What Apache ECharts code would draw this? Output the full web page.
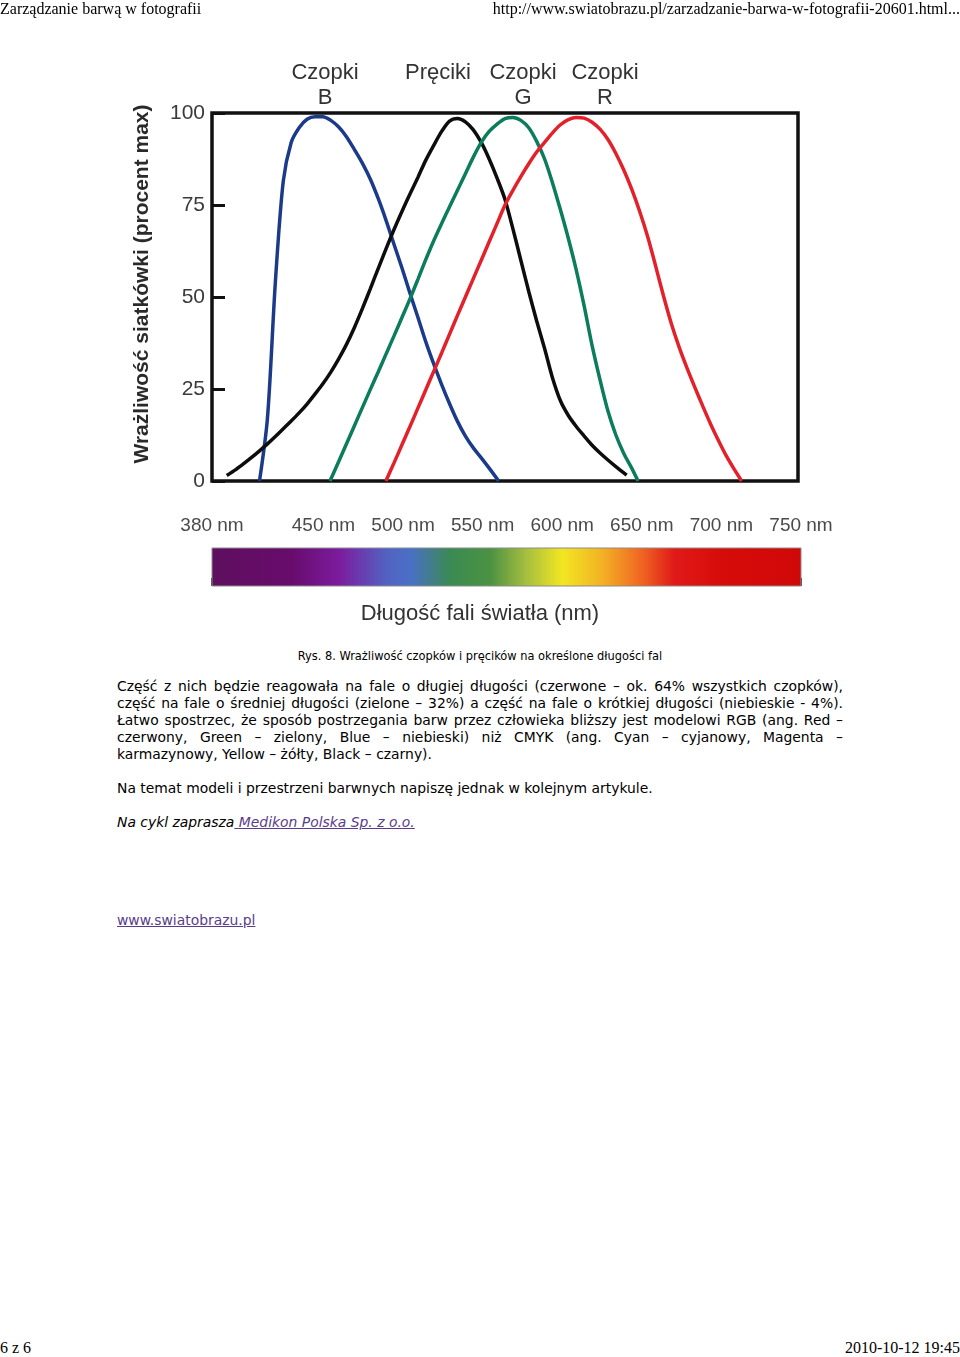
<!DOCTYPE html>
<html>
<head>
<meta charset="utf-8">
<script src="https://cdn.jsdelivr.net/npm/echarts@6/dist/echarts.min.js"></script>
<style>
html,body{margin:0;padding:0;background:#fff;}
body{width:960px;height:1357px;position:relative;overflow:hidden;}
#chart{position:absolute;left:0;top:0;width:960px;height:640px;z-index:1;}
.serif{position:absolute;z-index:2;font-family:"Liberation Serif","Times New Roman",serif;font-size:16px;line-height:18px;color:#000;white-space:nowrap;}
#caption{position:absolute;z-index:2;left:0;width:960px;top:648px;text-align:center;font-family:"DejaVu Sans Condensed","DejaVu Sans",sans-serif;font-size:12.7px;line-height:16px;color:#000;white-space:nowrap;}
.txt{position:absolute;z-index:2;left:117px;width:726px;font-family:"DejaVu Sans",Verdana,sans-serif;font-size:13.9px;line-height:17px;color:#000;}
.j{text-align:justify;text-align-last:justify;white-space:nowrap;}
.l{white-space:nowrap;}
a{color:#5a3c8c;text-decoration:underline;}
</style>
</head>
<body>
<div class="serif" style="left:0;top:0;">Zarządzanie barwą w fotografii</div>
<div class="serif" style="right:0;top:0;">http://www.swiatobrazu.pl/zarzadzanie-barwa-w-fotografii-20601.html...</div>
<div id="chart"></div>
<div id="caption">Rys. 8. Wrażliwość czopków i pręcików na określone długości fal</div>
<div class="txt" style="top:678px;">
<div class="j">Część z nich będzie reagowała na fale o długiej długości (czerwone – ok. 64% wszystkich czopków),</div>
<div class="j">część na fale o średniej długości (zielone – 32%) a część na fale o krótkiej długości (niebieskie - 4%).</div>
<div class="j">Łatwo spostrzec, że sposób postrzegania barw przez człowieka bliższy jest modelowi RGB (ang. Red –</div>
<div class="j">czerwony, Green – zielony, Blue – niebieski) niż CMYK (ang. Cyan – cyjanowy, Magenta –</div>
<div class="l">karmazynowy, Yellow – żółty, Black – czarny).</div>
</div>
<div class="txt l" style="top:780px;">Na temat modeli i przestrzeni barwnych napiszę jednak w kolejnym artykule.</div>
<div class="txt l" style="top:814px;font-style:italic;">Na cykl zaprasza<a href="#"> Medikon Polska Sp. z o.o.</a></div>
<div class="txt l" style="top:912px;"><a href="#">www.swiatobrazu.pl</a></div>
<div class="serif" style="left:0;top:1339px;">6 z 6</div>
<div class="serif" style="right:0;top:1339px;">2010-10-12 19:45</div>

<script>
// shrink letter spacing of any justified line that would overflow its box
document.querySelectorAll('.j').forEach(function (el) {
  let ls = 0;
  while (el.scrollWidth > el.clientWidth && ls > -1.5) {
    ls -= 0.05;
    el.style.letterSpacing = ls + 'px';
  }
});
</script>

<script>
// ---- data ----
const yTickValues = [0, 25, 50, 75, 100];
const spectrumTicks = [380, 450, 500, 550, 600, 650, 700, 750];

const blueNm  = [410, 415, 420, 425, 430, 435, 440, 445, 450, 455, 460, 465, 470, 475, 480, 485, 490, 495, 500, 505, 510, 515, 520, 525, 530, 535, 540, 545, 550, 555, 561];
const blueVal = [0, 17, 54, 81.5, 92, 96, 98.3, 99, 99, 98, 96.2, 93.5, 90, 86.3, 82, 76.7, 70.7, 64.2, 57.8, 51, 44.5, 37.8, 31.8, 26.2, 21, 16.2, 12.2, 9, 6.3, 3.5, 0];

const blackNm  = [389.3, 395, 400, 405, 410, 415, 420, 425, 430, 435, 440, 445, 450, 455, 460, 465, 470, 475, 480, 485, 490, 495, 500, 505, 510, 515, 520, 525, 530, 535, 540, 545, 550, 555, 560, 565, 570, 575, 580, 585, 590, 595, 600, 605, 610, 615, 620, 625, 630, 635, 641.8];
const blackVal = [1.5, 3.1, 4.7, 6.4, 8.2, 10.1, 12.1, 14.2, 16.3, 18.5, 20.9, 23.6, 26.4, 29.6, 33.2, 37.2, 41.8, 46.9, 52.3, 57.8, 63.2, 68.4, 73.3, 78, 82.5, 87.2, 91.2, 95, 97.8, 98.5, 97.6, 95.4, 92, 87.5, 82.3, 76.5, 68.5, 60, 51.5, 43.5, 36, 28, 21.8, 17.8, 14.8, 12.2, 9.7, 7.6, 5.7, 3.9, 1.6];

const greenNm  = [454.5, 460, 465, 470, 475, 480, 485, 490, 495, 500, 505, 510, 515, 520, 525, 530, 535, 540, 545, 550, 555, 560, 565, 570, 575, 580, 585, 590, 595, 600, 605, 610, 615, 620, 625, 630, 635, 640, 645, 649];
const greenVal = [0, 5.3, 10.2, 15.1, 20, 24.9, 29.7, 34.6, 39.5, 44.5, 49.5, 54.8, 60.2, 65.3, 70, 74.5, 79, 83.5, 88, 92, 95, 97, 98.5, 98.8, 98, 96, 92.3, 87.5, 81, 73.7, 65.9, 57.3, 47.5, 36.8, 27.5, 19, 12.5, 7.5, 3.5, 0];

const redNm  = [489.8, 495, 500, 505, 510, 515, 520, 525, 530, 535, 540, 545, 550, 555, 560, 565, 570, 575, 580, 585, 590, 595, 600, 605, 610, 615, 620, 625, 630, 635, 640, 645, 650, 655, 660, 665, 670, 675, 680, 685, 690, 695, 700, 705, 710, 714.4];
const redVal = [0, 5, 9.9, 14.8, 19.8, 24.8, 29.8, 34.8, 39.9, 45, 50, 55, 60, 65, 70, 75, 79, 82.7, 86.2, 89.4, 92, 94.6, 96.8, 98.2, 98.8, 98.6, 97.5, 95.6, 92.8, 89, 84.5, 79.3, 73.3, 66.5, 58.6, 50.4, 42.8, 36.3, 30.6, 25.3, 20.2, 15.3, 10.8, 6.6, 3, 0];

const spectrumNm     = [380, 430, 460, 490, 505, 530, 555, 578, 600, 625, 650, 670, 700, 750];
const spectrumColors = ['#5e0f5e', '#680b6c', '#7c1c9e', '#5262c2', '#4a70c6', '#3a8a52', '#4c9242', '#a8c03e', '#f2e622', '#f2b224', '#f06422', '#e01a18', '#d60c0a', '#d00808'];

const seriesNames = ['Czopki B', 'Pręciki', 'Czopki G', 'Czopki R'];

// ---- chart ----
const zip = (xs, ys) => xs.map((x, i) => [x, ys[i]]);
const FONT = '"Liberation Sans", Arial, Helvetica, sans-serif';
const chart = echarts.init(document.getElementById('chart'), null, {renderer: 'canvas'});

const nmMin = spectrumNm[0], nmMax = spectrumNm[spectrumNm.length - 1];
const gradStops = spectrumNm.map((nm, i) => ({offset: (nm - nmMin) / (nmMax - nmMin), color: spectrumColors[i]}));

function curve(name, xs, ys, color) {
  return {
    name: name, type: 'line', xAxisIndex: 0, yAxisIndex: 0,
    data: zip(xs, ys), smooth: 0.3, showSymbol: false,
    lineStyle: {color: color, width: 3.5}, itemStyle: {color: color}, silent: true, z: 3
  };
}

chart.setOption({
  animation: false,
  backgroundColor: 'transparent',
  grid: [
    {left: 212, top: 113, width: 586, height: 368, show: true, borderColor: '#111', borderWidth: 3.5, backgroundColor: 'transparent'},
    {left: 212, top: 548, width: 589, height: 38, show: false}
  ],
  xAxis: [
    {gridIndex: 0, type: 'value', min: 380, max: 750, axisLine: {show: false}, axisTick: {show: false}, axisLabel: {show: false}, splitLine: {show: false}},
    {gridIndex: 1, type: 'value', min: 380, max: 750, position: 'top',
     axisLine: {show: false},
     axisTick: {show: true, customValues: spectrumTicks, length: 8, lineStyle: {color: '#333', width: 2}},
     axisLabel: {show: true, customValues: spectrumTicks, formatter: '{value} nm', fontFamily: FONT, fontSize: 19, color: '#4a4a4a', margin: 13},
     splitLine: {show: false}}
  ],
  yAxis: [
    {gridIndex: 0, type: 'value', min: 0, max: 100, interval: 25,
     axisLine: {show: false},
     axisTick: {show: true, inside: true, length: 13, lineStyle: {color: '#111', width: 3}},
     axisLabel: {fontFamily: FONT, fontSize: 21, color: '#3a3a3a', margin: 7, customValues: yTickValues},
     splitLine: {show: false}},
    {gridIndex: 1, type: 'value', min: 0, max: 1, show: false}
  ],
  title: {
    text: 'Długość fali światła (nm)', left: 'center', top: 598,
    textStyle: {fontFamily: FONT, fontSize: 22, fontWeight: 'normal', color: '#333'}
  },
  graphic: [
    {type: 'text', x: 142, y: 284, rotation: Math.PI / 2,
     style: {text: 'Wrażliwość siatkówki (procent max)', textAlign: 'center', textVerticalAlign: 'middle', font: 'bold 21px ' + FONT, fill: '#2a2a2a'}},
    {type: 'text', x: 325, y: 60, style: {text: 'Czopki\nB', textAlign: 'center', font: '22px ' + FONT, fill: '#333', lineHeight: 25}},
    {type: 'text', x: 438, y: 60, style: {text: 'Pręciki', textAlign: 'center', font: '22px ' + FONT, fill: '#333', lineHeight: 25}},
    {type: 'text', x: 523, y: 60, style: {text: 'Czopki\nG', textAlign: 'center', font: '22px ' + FONT, fill: '#333', lineHeight: 25}},
    {type: 'text', x: 605, y: 60, style: {text: 'Czopki\nR', textAlign: 'center', font: '22px ' + FONT, fill: '#333', lineHeight: 25}}
  ],
  series: [
    curve(seriesNames[0], blueNm, blueVal, '#1b3a8a'),
    curve(seriesNames[1], blackNm, blackVal, '#0d0d0d'),
    curve(seriesNames[2], greenNm, greenVal, '#0b7c5c'),
    curve(seriesNames[3], redNm, redVal, '#e3212b'),
    {
      type: 'custom', xAxisIndex: 1, yAxisIndex: 1, silent: true,
      data: [[nmMin, 0, nmMax, 1]], encode: {x: [0, 2], y: [1, 3]},
      renderItem: function (params, api) {
        const p0 = api.coord([api.value(0), api.value(3)]);
        const p1 = api.coord([api.value(2), api.value(1)]);
        return {
          type: 'rect',
          shape: {x: p0[0], y: p0[1], width: p1[0] - p0[0], height: p1[1] - p0[1]},
          style: {fill: new echarts.graphic.LinearGradient(0, 0, 1, 0, gradStops), stroke: '#8c8c8c', lineWidth: 1}
        };
      }
    }
  ]
});
</script>
</body>
</html>
